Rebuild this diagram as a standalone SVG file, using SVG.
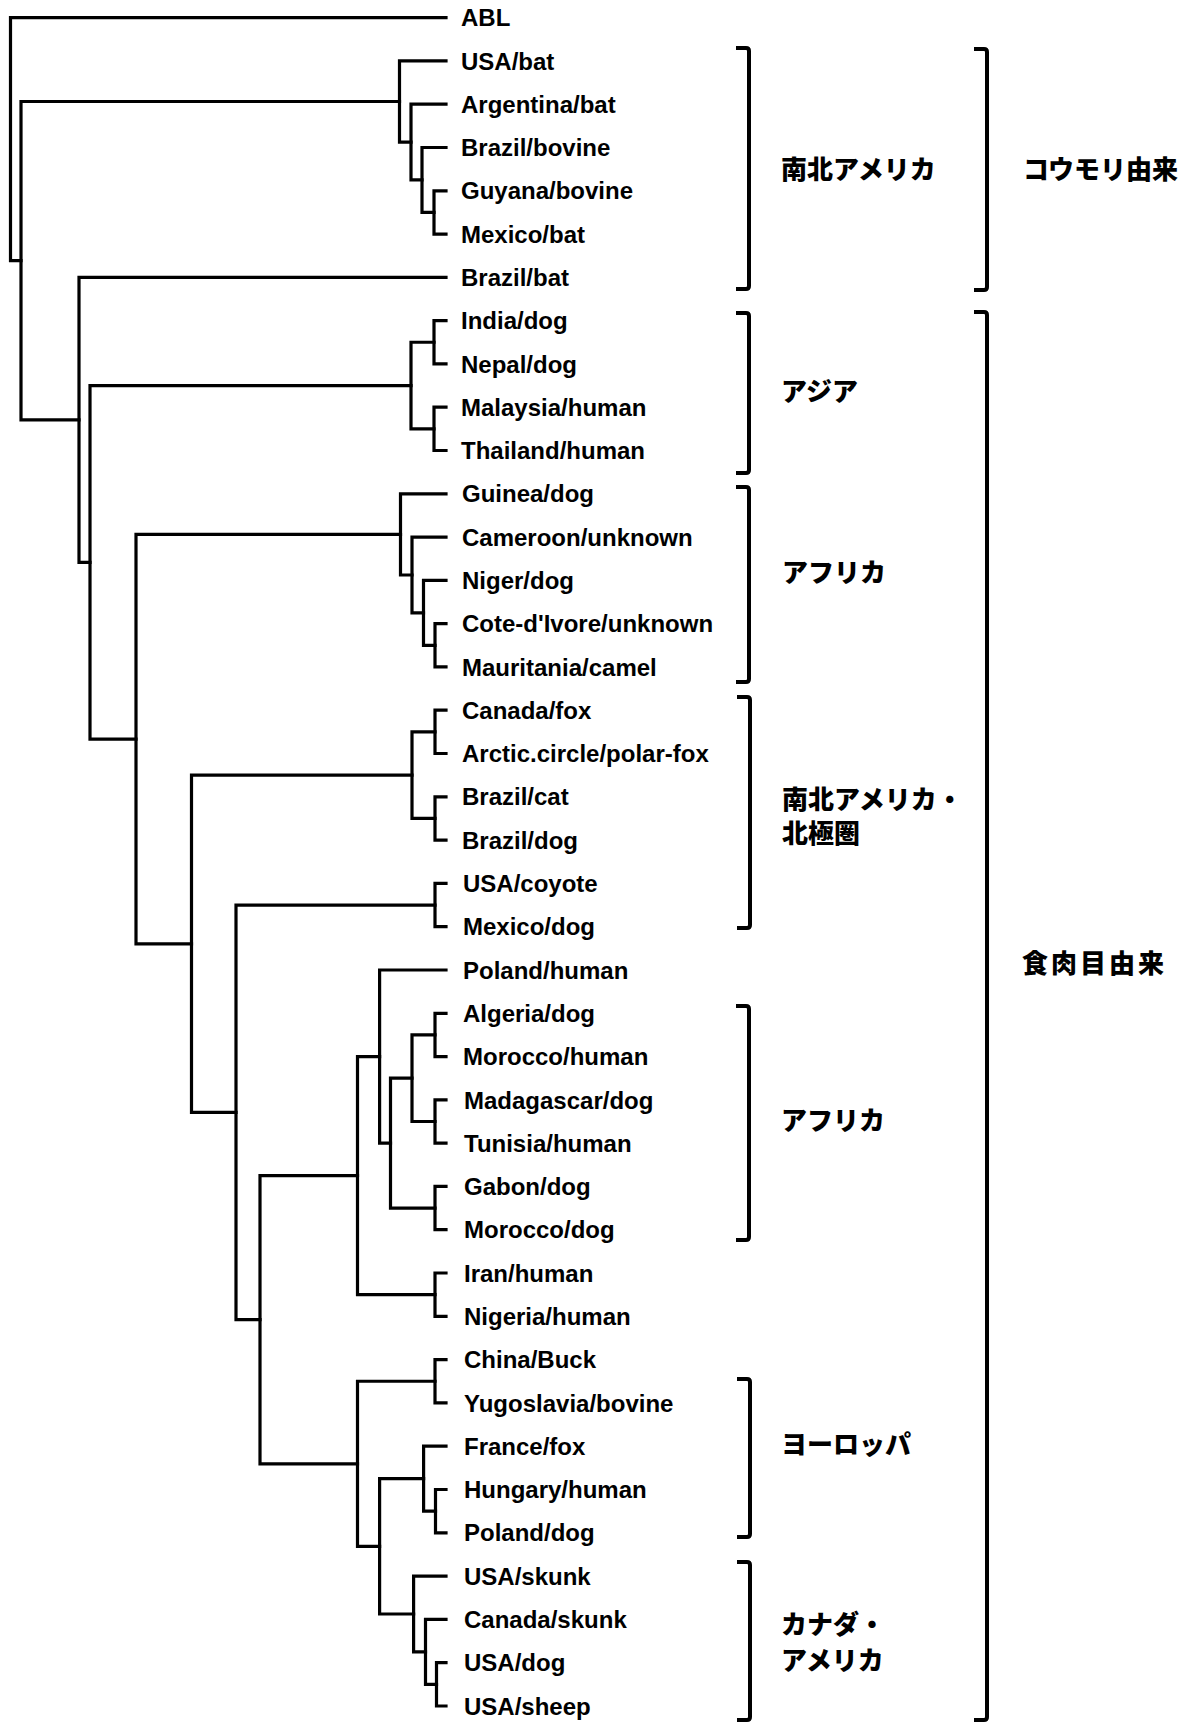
<svg xmlns="http://www.w3.org/2000/svg" width="1194" height="1723" viewBox="0 0 1194 1723">
<style>
.t{fill:none;stroke:#000;stroke-width:3.2;stroke-linecap:square;stroke-linejoin:miter}
.b{fill:none;stroke:#000;stroke-width:4;stroke-linecap:butt;stroke-linejoin:round}
.l{font-family:"Liberation Sans",Arial,sans-serif;font-weight:bold;font-size:24px;fill:#000}
.j{font-family:"Noto Sans CJK JP",sans-serif;font-weight:900;font-size:26px;fill:#000}
</style>
<rect width="1194" height="1723" fill="#fff"/>
<g id="connectors">
<path class="t" d="M 446 17.6 H 10.5 V 260.65 H 21"/>
<path class="t" d="M 399.5 101.5 H 21 V 419.8 H 79"/>
<path class="t" d="M 446 60.9 H 399.5 V 142.1 H 411"/>
<path class="t" d="M 446 104.2 H 411 V 179.95 H 422"/>
<path class="t" d="M 446 147.5 H 422 V 212.4 H 434"/>
<path class="t" d="M 446 190.8 H 434 V 234.05 H 446"/>
<path class="t" d="M 446 277.3 H 79 V 562.3 H 90"/>
<path class="t" d="M 411 385.55 H 90 V 739.1 H 136"/>
<path class="t" d="M 434 342.25 H 411 V 428.85 H 434"/>
<path class="t" d="M 446 320.6 H 434 V 363.9 H 446"/>
<path class="t" d="M 446 407.2 H 434 V 450.5 H 446"/>
<path class="t" d="M 400.5 534.4 H 136 V 943.8 H 191.5"/>
<path class="t" d="M 446 493.8 H 400.5 V 575 H 412"/>
<path class="t" d="M 446 537.1 H 412 V 612.9 H 423.5"/>
<path class="t" d="M 446 580.4 H 423.5 V 645.3 H 435"/>
<path class="t" d="M 446 623.7 H 435 V 666.95 H 446"/>
<path class="t" d="M 412 775.15 H 191.5 V 1112.4 H 236"/>
<path class="t" d="M 435 731.85 H 412 V 818.45 H 435"/>
<path class="t" d="M 446 710.2 H 435 V 753.5 H 446"/>
<path class="t" d="M 446 796.8 H 435 V 840.1 H 446"/>
<path class="t" d="M 435 905.05 H 236 V 1319.7 H 260"/>
<path class="t" d="M 446 883.4 H 435 V 926.7 H 446"/>
<path class="t" d="M 357.5 1175.6 H 260 V 1463.8 H 357.5"/>
<path class="t" d="M 379.6 1056.6 H 357.5 V 1294.65 H 435"/>
<path class="t" d="M 446 1273 H 435 V 1316.3 H 446"/>
<path class="t" d="M 446 970 H 379.6 V 1143.1 H 390.5"/>
<path class="t" d="M 412 1078.2 H 390.5 V 1208.05 H 435"/>
<path class="t" d="M 435 1034.95 H 412 V 1121.5 H 435"/>
<path class="t" d="M 446 1013.3 H 435 V 1056.6 H 446"/>
<path class="t" d="M 446 1099.85 H 435 V 1143.1 H 446"/>
<path class="t" d="M 446 1186.4 H 435 V 1229.7 H 446"/>
<path class="t" d="M 435 1381.25 H 357.5 V 1546.35 H 379.6"/>
<path class="t" d="M 446 1359.6 H 435 V 1402.9 H 446"/>
<path class="t" d="M 423.6 1478.7 H 379.6 V 1614 H 413.6"/>
<path class="t" d="M 446 1446.2 H 423.6 V 1511.15 H 435.5"/>
<path class="t" d="M 446 1489.5 H 435.5 V 1532.8 H 446"/>
<path class="t" d="M 446 1576.1 H 413.6 V 1651.9 H 425.5"/>
<path class="t" d="M 446 1619.4 H 425.5 V 1684.35 H 436.5"/>
<path class="t" d="M 446 1662.7 H 436.5 V 1706 H 446"/>
</g>
<g id="leaves">
<text class="l" x="461" y="26.2">ABL</text>
<text class="l" x="461" y="69.5">USA/bat</text>
<text class="l" x="461" y="112.8">Argentina/bat</text>
<text class="l" x="461" y="156.1">Brazil/bovine</text>
<text class="l" x="461" y="199.4">Guyana/bovine</text>
<text class="l" x="461" y="242.7">Mexico/bat</text>
<text class="l" x="461" y="285.9">Brazil/bat</text>
<text class="l" x="461" y="329.2">India/dog</text>
<text class="l" x="461" y="372.5">Nepal/dog</text>
<text class="l" x="461" y="415.8">Malaysia/human</text>
<text class="l" x="461" y="459.1">Thailand/human</text>
<text class="l" x="462" y="502.4">Guinea/dog</text>
<text class="l" x="462" y="545.7">Cameroon/unknown</text>
<text class="l" x="462" y="589">Niger/dog</text>
<text class="l" x="462" y="632.3">Cote-d'Ivore/unknown</text>
<text class="l" x="462" y="675.6">Mauritania/camel</text>
<text class="l" x="462" y="718.8">Canada/fox</text>
<text class="l" x="462" y="762.1">Arctic.circle/polar-fox</text>
<text class="l" x="462" y="805.4">Brazil/cat</text>
<text class="l" x="462" y="848.7">Brazil/dog</text>
<text class="l" x="463" y="892">USA/coyote</text>
<text class="l" x="463" y="935.3">Mexico/dog</text>
<text class="l" x="463" y="978.6">Poland/human</text>
<text class="l" x="463" y="1021.9">Algeria/dog</text>
<text class="l" x="463" y="1065.2">Morocco/human</text>
<text class="l" x="464" y="1108.5">Madagascar/dog</text>
<text class="l" x="464" y="1151.7">Tunisia/human</text>
<text class="l" x="464" y="1195">Gabon/dog</text>
<text class="l" x="464" y="1238.3">Morocco/dog</text>
<text class="l" x="464" y="1281.6">Iran/human</text>
<text class="l" x="464" y="1324.9">Nigeria/human</text>
<text class="l" x="464" y="1368.2">China/Buck</text>
<text class="l" x="464" y="1411.5">Yugoslavia/bovine</text>
<text class="l" x="464" y="1454.8">France/fox</text>
<text class="l" x="464" y="1498.1">Hungary/human</text>
<text class="l" x="464" y="1541.4">Poland/dog</text>
<text class="l" x="464" y="1584.7">USA/skunk</text>
<text class="l" x="464" y="1628">Canada/skunk</text>
<text class="l" x="464" y="1671.3">USA/dog</text>
<text class="l" x="464" y="1714.6">USA/sheep</text>
</g>
<g id="group-americas-bat">
<path class="b" d="M 736 48 H 746 Q 749 48 749 51 V 286 Q 749 289 746 289 H 736"/>
<text class="j" x="781" y="178.5">南北アメリカ</text>
</g>
<g id="group-bat-origin">
<path class="b" d="M 974 49 H 984 Q 987 49 987 52 V 287 Q 987 290 984 290 H 974"/>
<text class="j" x="1023" y="178.5">コウモリ由来</text>
</g>
<g id="group-asia">
<path class="b" d="M 736 313 H 746 Q 749 313 749 316 V 470 Q 749 473 746 473 H 736"/>
<text class="j" x="781" y="400.5">アジア</text>
</g>
<g id="group-carnivore-origin">
<path class="b" d="M 974 312 H 984 Q 987 312 987 315 V 1717 Q 987 1720 984 1720 H 974"/>
<text class="j" x="1022" y="972.5" letter-spacing="3">食肉目由来</text>
</g>
<g id="group-africa-1">
<path class="b" d="M 736 487 H 746 Q 749 487 749 490 V 679 Q 749 682 746 682 H 736"/>
<text class="j" x="782" y="581.5">アフリカ</text>
</g>
<g id="group-americas-arctic">
<path class="b" d="M 737 697 H 747 Q 750 697 750 700 V 925 Q 750 928 747 928 H 737"/>
<text class="j" x="782" y="808.5">南北アメリカ・</text>
<text class="j" x="782" y="842.5">北極圏</text>
</g>
<g id="group-africa-2">
<path class="b" d="M 736 1006 H 746 Q 749 1006 749 1009 V 1237 Q 749 1240 746 1240 H 736"/>
<text class="j" x="781" y="1129.5">アフリカ</text>
</g>
<g id="group-europe">
<path class="b" d="M 737 1379 H 747 Q 750 1379 750 1382 V 1534 Q 750 1537 747 1537 H 737"/>
<text class="j" x="781" y="1453.5">ヨーロッパ</text>
</g>
<g id="group-canada-usa">
<path class="b" d="M 737 1562 H 747 Q 750 1562 750 1565 V 1717 Q 750 1720 747 1720 H 737"/>
<text class="j" x="781" y="1633.5">カナダ・</text>
<text class="j" x="781" y="1669.5">アメリカ</text>
</g>
</svg>
